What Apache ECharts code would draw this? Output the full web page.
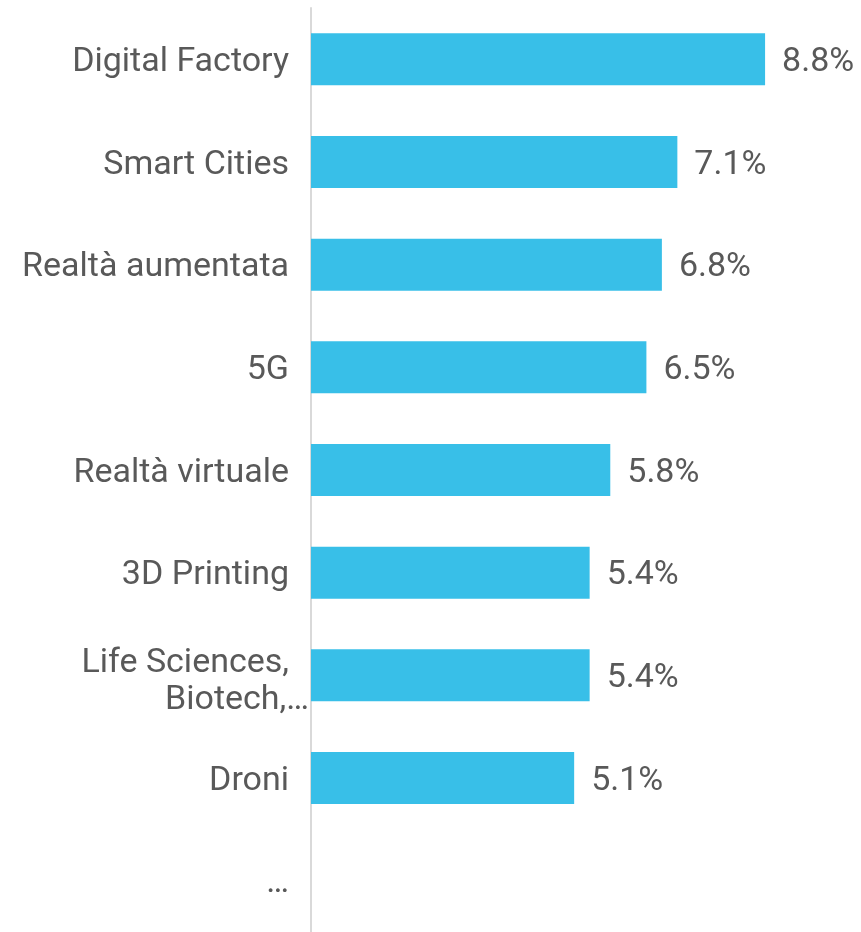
<!DOCTYPE html>
<html><head><meta charset="utf-8">
<script src="https://cdn.jsdelivr.net/npm/echarts@6/dist/echarts.min.js"></script>
<style>html,body{margin:0;padding:0;background:#fff}#c{width:861px;height:932px}</style>
</head><body><div id="c"></div>
<script>
const categories = ["Digital Factory","Smart Cities","Realtà aumentata","5G","Realtà virtuale","3D Printing","Life Sciences, Biotech,…","Droni","…"];
const values = [8.8,7.1,6.8,6.5,5.8,5.4,5.4,5.1,null];

const FS = 34;
const chart = echarts.init(document.getElementById('c'));
chart.setOption({
  animation:false,
  grid:{left:311,right:34,top:8,bottom:0,containLabel:false},
  xAxis:{type:'value',min:0,max:10,show:false},
  yAxis:{type:'category',data:categories,inverse:true,
    axisLine:{show:true,lineStyle:{color:'#D9D9D9',width:2}},
    axisTick:{show:false},
    axisLabel:{margin:2,color:'#595959',fontFamily:'Roboto',fontSize:FS,padding:[6,0,0,0],
      formatter:function(v){
        if(v.indexOf('Life Sciences')===0){return '{s| }\n{a|Life Sciences,}\n{b|Biotech,…}';}
        return '{a|'+v+'}';
      },
      rich:{s:{fontSize:4,lineHeight:8},
            a:{color:'#595959',fontFamily:'Roboto',fontSize:FS,lineHeight:37,padding:[0,20,0,0]},
            b:{color:'#595959',fontFamily:'Roboto',fontSize:FS,lineHeight:37}}
    }},
  series:[{type:'bar',data:values,barWidth:52,
    itemStyle:{color:'#38BFE8'},
    label:{show:true,position:'right',distance:17,offset:[0,3],color:'#595959',fontFamily:'Roboto',fontSize:FS,
      formatter:function(p){return p.value==null?'':p.value.toFixed(1)+'%';}}
  }]
});
</script></body></html>
